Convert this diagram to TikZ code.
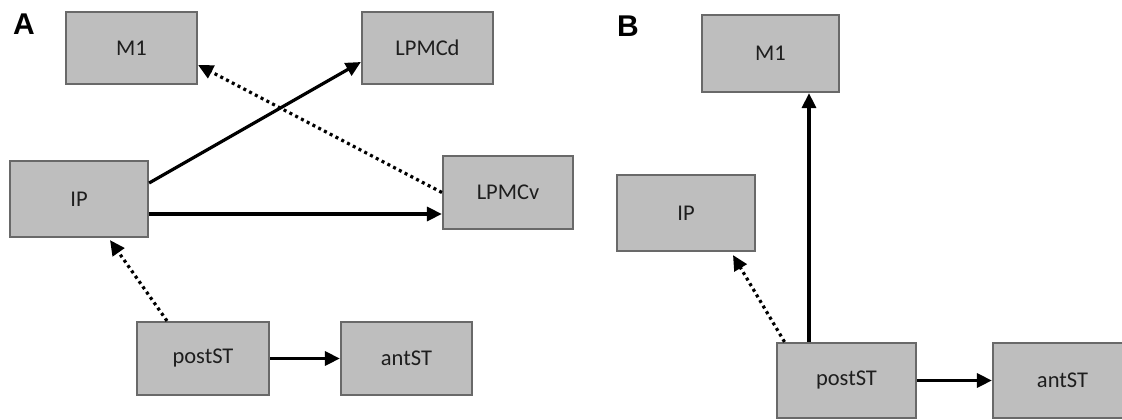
\documentclass[tikz,border=0pt]{standalone}
\usepackage{fontspec}
\setmainfont{Carlito}
\newfontfamily\panelfont{Liberation Sans}
\usetikzlibrary{arrows.meta,calc}
\definecolor{boxfill}{RGB}{190,190,190}
\definecolor{boxline}{RGB}{105,105,105}
\definecolor{txt}{RGB}{30,30,30}
\tikzset{
  areabox/.style={draw=boxline, line width=2.2pt, fill=boxfill, rectangle, inner sep=0pt,
    font=\fontsize{22.5}{27}\selectfont, text=txt},
  solidarr/.style={line width=3.2pt, -{Triangle[length=15pt,width=14pt]}},
  dotarr/.style={line width=3.2pt, dash pattern=on 3pt off 3.5pt, -{Triangle[length=15pt,width=14pt]}},
  panellabel/.style={font=\panelfont\bfseries\fontsize{30}{31}\selectfont, inner sep=0pt}
}
\begin{document}
\begin{tikzpicture}[x=1pt,y=-1pt]
\useasboundingbox (0,0) rectangle (1122,420);
\begin{scope}
\clip (0,0) rectangle (1122,420);
% Panel A
\node[panellabel] (labA) at (24,24) {A};
\node[areabox, minimum width=131pt, minimum height=72pt] (aM1) at (131.5,48) {M1};
\node[areabox, minimum width=131pt, minimum height=72pt] (aLPMCd) at (427.5,48) {LPMCd};
\node[areabox, minimum width=138pt, minimum height=76pt] (aIP) at (79,199) {IP};
\node[areabox, minimum width=130pt, minimum height=73pt] (aLPMCv) at (508,192.5) {LPMCv};
\node[areabox, minimum width=132pt, minimum height=73pt] (apostST) at (203,358.5) {postST};
\node[areabox, minimum width=131pt, minimum height=73pt] (aantST) at (406.5,358.5) {antST};

\draw[solidarr] ([yshift=16pt]aIP.east) -- ([yshift=-14pt]aLPMCd.west);
\draw[solidarr] ([yshift=-15pt]aIP.east) -- ([yshift=-21.5pt]aLPMCv.west);
\draw[dotarr] (aLPMCv.west) -- ([yshift=-17pt]aM1.east);
\draw[dotarr] ([xshift=-36pt]apostST.north) -- ([xshift=31pt,yshift=-2pt]aIP.south);
\draw[solidarr] (apostST.east) -- (aantST.west);

% Panel B
\node[panellabel] (labB) at (628,26) {B};
\node[areabox, minimum width=137pt, minimum height=77pt] (bM1) at (770.5,53.5) {M1};
\node[areabox, minimum width=138pt, minimum height=76pt] (bIP) at (686,213) {IP};
\node[areabox, minimum width=139pt, minimum height=75pt] (bpostST) at (846.5,380.5) {postST};
\node[areabox, minimum width=139pt, minimum height=75pt] (bantST) at (1062.5,380.5) {antST};

\draw[solidarr] ([xshift=-37.5pt]bpostST.north) -- ([xshift=-37.5pt]bpostST.north |- bM1.south);
\draw[dotarr] ([xshift=-62pt]bpostST.north) -- ([xshift=47pt,yshift=-3pt]bIP.south);
\draw[solidarr] (bpostST.east) -- (bantST.west);
\end{scope}
\end{tikzpicture}
\end{document}
